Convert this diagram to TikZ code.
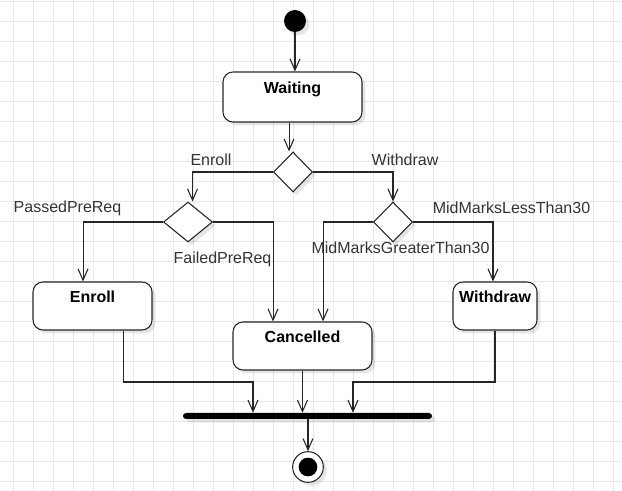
\documentclass[tikz,border=0pt]{standalone}
\usepackage{fontspec}
\setmainfont{Liberation Sans}
\usetikzlibrary{positioning,arrows.meta,shapes.geometric,shadows}

\begin{document}
\begin{tikzpicture}[
  x=0.75pt, y=-0.75pt,
  font=\fontsize{12pt}{14pt}\selectfont,
  gridline/.style={draw=black!9,line width=0.75pt},
  shade box/.style={drop shadow={shadow xshift=2.5pt,shadow yshift=-2.5pt,opacity=0.1,fill=black}},
  state/.style={rectangle,draw=black!85,rounded corners=7.5pt,fill=white,line width=0.8pt,
    font=\fontsize{12pt}{14pt}\selectfont\bfseries,text height=9pt,text depth=13.5pt,
    inner sep=0pt,minimum height=36pt,shade box},
  decision/.style={diamond,draw=black!85,fill=white,line width=0.8pt,inner sep=0pt,
    minimum height=30pt,shade box},
  arrow/.style={-{Straight Barb[length=8.5pt,width=7.5pt]},line width=0.8pt,draw=black!85},
  guard/.style={anchor=base,text=black!80,inner sep=0pt}
]
\useasboundingbox (0,0) rectangle (622,491);
% background grid
\foreach \gx in {13,33,...,613} \draw[gridline] (\gx,0) -- (\gx,491);
\foreach \gy in {2,22,...,482} \draw[gridline] (0,\gy) -- (622,\gy);

\node[circle,fill=black,minimum size=16.5pt,inner sep=0pt,shade box] (start) at (295,21) {};
\node[state,minimum width=104.25pt,minimum height=37.5pt] (waiting) at (292.5,97) {Waiting};
\node[decision,minimum width=29.25pt] (d1) at (293,172) {};
\node[decision,minimum width=36.75pt] (d2) at (188,222) {};
\node[decision,minimum width=29.25pt] (d3) at (393,222) {};
\node[state,minimum width=89.25pt] (enroll) at (92.5,306) {Enroll};
\node[state,minimum width=104.25pt] (cancelled) at (302.5,346) {Cancelled};
\node[state,minimum width=63pt] (withdraw) at (495,306) {Withdraw};
\node[rectangle,fill=black,rounded corners=2.25pt,minimum width=186.75pt,minimum height=4.5pt,
  inner sep=0pt,shade box] (merge) at (307.5,416) {};
\node[circle,draw=black!85,fill=white,line width=0.8pt,minimum size=23pt,inner sep=0pt,shade box,
  path picture={\fill[black] (path picture bounding box.center) circle (7pt);}] (finish) at (308,467) {};

% guard labels
\node[guard] (gEnroll) at (211,166) {Enroll};
\node[guard] (gWithdraw) at (405,166) {Withdraw};
\node[guard] (gPassed) at (67.5,213) {PassedPreReq};
\node[guard] (gFailed) at (222.5,264) {FailedPreReq};
\node[guard] (gLess) at (511.5,214) {MidMarksLessThan30};
\node[guard] (gGreater) at (400.5,254) {MidMarksGreaterThan30};

\coordinate (joinL) at (253,382);
\coordinate (joinR) at (353,382);

\draw[arrow] (start) -- (start |- waiting.north);
\draw[arrow] ([xshift=-2.6pt]waiting.south) -- ([xshift=-2.6pt]waiting.south |- d1.north);
\draw[arrow] (d1.west) -| ([xshift=3.4pt]d2.north);
\draw[arrow] (d1.east) -| (d3.north);
\draw[arrow] (d2.west) -| ([xshift=-7.1pt]enroll.north);
\draw[arrow] (d2.east) -| ([xshift=-22.1pt]cancelled.north);
\draw[arrow] (d3.west) -| ([xshift=15.4pt]cancelled.north);
\draw[arrow] (d3.east) -| ([xshift=-1.5pt]withdraw.north);
\draw[arrow] ([xshift=22.9pt]enroll.south) |- (joinL) -- (joinL |- merge.north);
\draw[arrow] (cancelled.south) -- (cancelled.south |- merge.north);
\draw[arrow] (withdraw.south) |- (joinR) -- (joinR |- merge.north);
\draw[arrow] (merge.south -| finish) -- (finish.north);
\end{tikzpicture}
\end{document}
